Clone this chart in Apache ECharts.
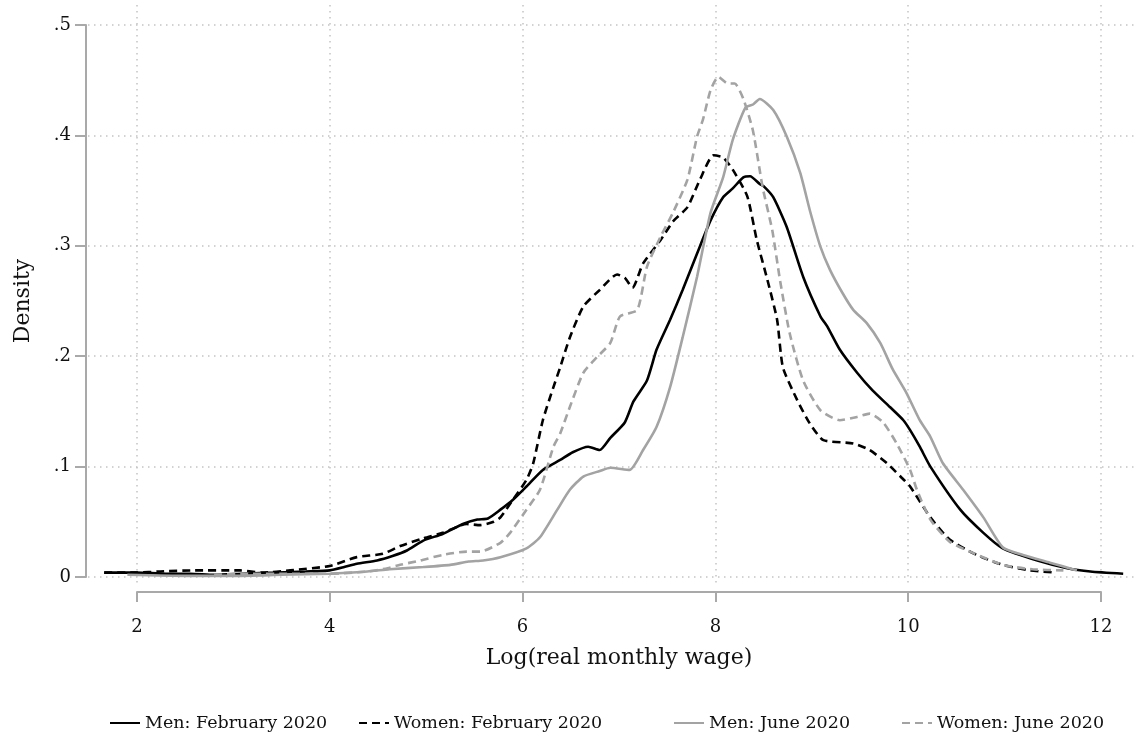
<!DOCTYPE html>
<html>
<head>
<meta charset="utf-8">
<script src="https://cdn.jsdelivr.net/npm/echarts@6/dist/echarts.min.js"></script>
<style>html,body{margin:0;padding:0;background:#fff}#c{width:1138px;height:740px}</style>
</head>
<body>
<div id="c"></div>
<script>
const seriesNames = ['Men: February 2020', 'Women: February 2020', 'Men: June 2020', 'Women: June 2020'];
const xTicks = [2, 4, 6, 8, 10, 12];
const yTicks = [0, 0.1, 0.2, 0.3, 0.4, 0.5];

const menFeb = [[1.66,0.004],[2.0,0.004],[2.3,0.003],[2.55,0.003],[2.8,0.002],[3.1,0.003],[3.45,0.004],[3.75,0.005],[4.0,0.006],[4.15,0.009],[4.28,0.012],[4.49,0.015],[4.65,0.019],[4.8,0.024],[4.97,0.033],[5.17,0.039],[5.38,0.048],[5.53,0.052],[5.64,0.053],[5.77,0.061],[5.9,0.070],[6.04,0.082],[6.21,0.097],[6.39,0.106],[6.52,0.113],[6.68,0.118],[6.8,0.115],[6.91,0.126],[7.06,0.140],[7.15,0.159],[7.29,0.178],[7.39,0.206],[7.53,0.233],[7.66,0.260],[7.81,0.293],[7.95,0.323],[8.08,0.344],[8.18,0.352],[8.29,0.362],[8.36,0.363],[8.46,0.356],[8.5,0.354],[8.6,0.344],[8.74,0.317],[8.91,0.272],[9.09,0.236],[9.16,0.227],[9.29,0.206],[9.47,0.185],[9.63,0.169],[9.81,0.154],[9.95,0.142],[10.02,0.133],[10.12,0.118],[10.23,0.100],[10.54,0.061],[10.78,0.040],[10.98,0.026],[11.34,0.015],[11.65,0.008],[11.89,0.005],[12.23,0.003]];

const womenFeb = [[1.66,0.004],[2.0,0.004],[2.24,0.005],[2.6,0.006],[3.07,0.006],[3.3,0.004],[3.59,0.006],[4.0,0.010],[4.28,0.018],[4.55,0.021],[4.73,0.028],[4.97,0.035],[5.17,0.040],[5.42,0.048],[5.56,0.047],[5.7,0.050],[5.77,0.054],[5.9,0.070],[6.04,0.088],[6.11,0.103],[6.21,0.142],[6.32,0.172],[6.39,0.190],[6.49,0.217],[6.63,0.245],[6.80,0.260],[6.98,0.274],[7.06,0.271],[7.14,0.262],[7.25,0.284],[7.43,0.305],[7.56,0.322],[7.71,0.335],[7.84,0.360],[7.98,0.382],[8.08,0.380],[8.18,0.369],[8.33,0.345],[8.43,0.305],[8.54,0.269],[8.64,0.233],[8.70,0.190],[8.85,0.160],[8.98,0.139],[9.12,0.124],[9.43,0.121],[9.6,0.115],[9.78,0.103],[9.92,0.091],[10.02,0.082],[10.23,0.054],[10.43,0.034],[10.71,0.020],[10.98,0.011],[11.26,0.006],[11.54,0.004]];

const menJun = [[1.9,0.002],[2.5,0.001],[3.0,0.001],[3.5,0.002],[4.0,0.003],[4.39,0.005],[4.62,0.007],[4.97,0.009],[5.25,0.011],[5.44,0.014],[5.59,0.015],[5.77,0.018],[6.04,0.026],[6.18,0.036],[6.36,0.061],[6.49,0.079],[6.63,0.091],[6.80,0.096],[6.91,0.099],[7.11,0.097],[7.25,0.115],[7.39,0.136],[7.53,0.172],[7.66,0.217],[7.81,0.272],[7.95,0.330],[8.08,0.362],[8.18,0.396],[8.31,0.425],[8.39,0.428],[8.46,0.433],[8.60,0.423],[8.74,0.399],[8.88,0.366],[8.98,0.332],[9.09,0.299],[9.19,0.278],[9.32,0.257],[9.43,0.242],[9.57,0.230],[9.71,0.212],[9.84,0.188],[9.98,0.167],[10.12,0.142],[10.23,0.127],[10.36,0.103],[10.57,0.079],[10.78,0.054],[10.98,0.027],[11.19,0.020],[11.47,0.013],[11.75,0.006]];

const womenJun = [[2.8,0.002],[3.2,0.003],[3.6,0.003],[4.0,0.003],[4.39,0.005],[4.6,0.008],[4.73,0.011],[4.94,0.015],[5.17,0.020],[5.42,0.023],[5.56,0.023],[5.77,0.031],[5.87,0.040],[6.04,0.061],[6.18,0.079],[6.32,0.118],[6.39,0.130],[6.49,0.154],[6.63,0.185],[6.77,0.199],[6.91,0.212],[7.01,0.236],[7.19,0.242],[7.29,0.281],[7.43,0.308],[7.56,0.330],[7.71,0.360],[7.81,0.399],[7.87,0.414],[7.95,0.441],[8.03,0.453],[8.13,0.447],[8.20,0.447],[8.29,0.433],[8.39,0.404],[8.49,0.353],[8.59,0.314],[8.67,0.269],[8.77,0.221],[8.91,0.178],[9.09,0.151],[9.29,0.142],[9.47,0.145],[9.60,0.148],[9.74,0.140],[9.88,0.121],[10.02,0.097],[10.09,0.079],[10.23,0.052],[10.43,0.032],[10.64,0.023],[10.98,0.011],[11.29,0.007],[11.61,0.006]];

const FONT = 'DejaVu Serif';
const AXIS_GRAY = '#a9a9a9';
const GRID_GRAY = '#c4c4c4';
const DARK = '#000000';
const LIGHT = '#a3a3a3';

const W = 1138;
const axL = 137, axR = 37;       // x-axis span (2..12)
const plotL = 88, plotR = 0;     // full plot region
const xMin = xTicks[0], xMax = xTicks[xTicks.length - 1];
const yMin = yTicks[0], yMax = yTicks[yTicks.length - 1];
const xStep = xTicks[1] - xTicks[0];
const yStep = yTicks[1] - yTicks[0];
const pxPerUnit = (W - axL - axR) / (xMax - xMin);
const wideMin = xMin - (axL - plotL) / pxPerUnit;
const wideMax = xMax + (axR - plotR) / pxPerUnit;

const yFmt = v => {
  if (Math.abs(v) < 1e-9) return '0';
  return (Math.round(v * 10) / 10).toString().replace(/^0\./, '.');
};

const dotted = { color: GRID_GRAY, width: 1.5, type: [1.5, 4.5] };

const chart = echarts.init(document.getElementById('c'), null, { renderer: 'canvas' });

function mkSeries(name, data, color, dashed) {
  return {
    name, type: 'line', data, xAxisIndex: 1, yAxisIndex: 1,
    symbol: 'none', showSymbol: false, smooth: 0.2,
    lineStyle: { color, width: 2.6, type: dashed ? [8, 5] : 'solid' },
    itemStyle: { color },
    z: 5, animation: false
  };
}

function mkLegend(name, left) {
  return {
    data: [name], left, top: 709, orient: 'horizontal',
    itemWidth: 30, itemHeight: 14, itemGap: 14,
    itemStyle: { opacity: 0 },
    textStyle: { fontFamily: FONT, fontSize: 17.5, color: '#111' }
  };
}

const gridBase = { outerBoundsMode: 'none', containLabel: false };

chart.setOption({
  backgroundColor: '#fff',
  animation: false,
  grid: [
    Object.assign({ left: axL, right: axR, top: 25, bottom: 163 }, gridBase),
    Object.assign({ left: plotL, right: plotR, top: 25, bottom: 163 }, gridBase),
    Object.assign({ left: axL, right: axR, top: 5, bottom: 155 }, gridBase)
  ],
  xAxis: [
    {
      gridIndex: 0, type: 'value', min: xMin, max: xMax, interval: xStep, offset: 15,
      name: 'Log(real monthly wage)', nameLocation: 'middle', nameGap: 55,
      nameTextStyle: { fontFamily: FONT, fontSize: 22, color: '#111' },
      axisLine: { show: true, onZero: false, lineStyle: { color: AXIS_GRAY, width: 2 } },
      axisTick: { show: true, length: 10, inside: false, lineStyle: { color: AXIS_GRAY, width: 2 } },
      axisLabel: { fontFamily: FONT, fontSize: 18, color: '#111', margin: 26 },
      splitLine: { show: false }
    },
    { gridIndex: 1, type: 'value', min: wideMin, max: wideMax, show: false },
    {
      gridIndex: 2, type: 'value', min: xMin, max: xMax, interval: xStep,
      axisLine: { show: false }, axisTick: { show: false }, axisLabel: { show: false },
      splitLine: { show: true, lineStyle: dotted }
    }
  ],
  yAxis: [
    {
      gridIndex: 0, type: 'value', min: yMin, max: yMax, interval: yStep, offset: 51,
      name: 'Density', nameLocation: 'middle', nameGap: 52, nameRotate: 90,
      nameTextStyle: { fontFamily: FONT, fontSize: 22, color: '#111' },
      axisLine: { show: true, onZero: false, lineStyle: { color: AXIS_GRAY, width: 2 } },
      axisTick: { show: true, length: 11, inside: false, lineStyle: { color: AXIS_GRAY, width: 2 } },
      axisLabel: { fontFamily: FONT, fontSize: 18, color: '#111', margin: 15, formatter: yFmt },
      splitLine: { show: false }
    },
    {
      gridIndex: 1, type: 'value', min: yMin, max: yMax, interval: yStep,
      axisLine: { show: false }, axisTick: { show: false }, axisLabel: { show: false },
      splitLine: { show: true, lineStyle: dotted }
    },
    { gridIndex: 2, type: 'value', min: 0, max: 1, show: false }
  ],
  legend: [
    mkLegend(seriesNames[0], 104),
    mkLegend(seriesNames[1], 353),
    mkLegend(seriesNames[2], 668),
    mkLegend(seriesNames[3], 896)
  ],
  series: [
    mkSeries(seriesNames[0], menFeb, DARK, false),
    mkSeries(seriesNames[1], womenFeb, DARK, true),
    mkSeries(seriesNames[2], menJun, LIGHT, false),
    mkSeries(seriesNames[3], womenJun, LIGHT, true)
  ]
});
</script>
</body>
</html>
